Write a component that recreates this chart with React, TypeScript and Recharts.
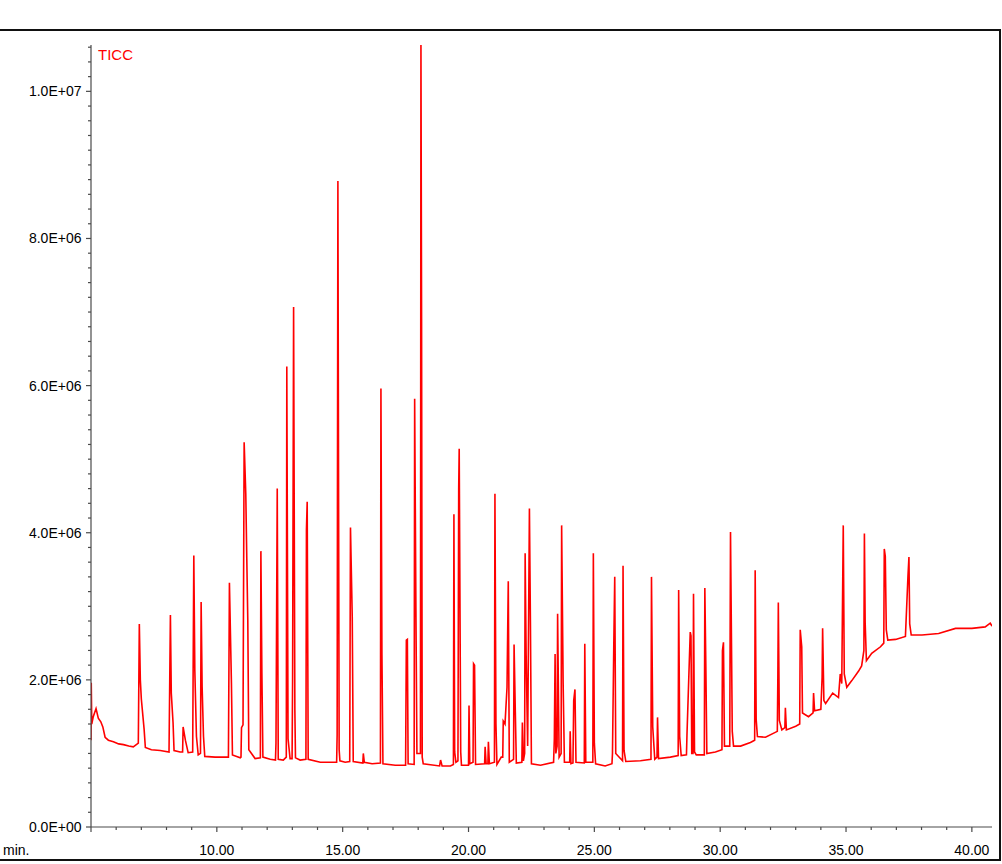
import { useLayoutEffect } from "react";
import { Line, LineChart, XAxis, YAxis } from "recharts";

// TICC trace, retention time (min) vs intensity (x 1E+06 counts)
const earlyTrace: [number, number][] = [
  [5.0, 1.18], [5.01, 1.96], [5.03, 1.4], [5.09, 1.5], [5.2, 1.61], [5.29, 1.48],
  [5.39, 1.43], [5.47, 1.36], [5.56, 1.22], [5.69, 1.18], [5.89, 1.16], [6.1, 1.13],
  [6.29, 1.12], [6.5, 1.1], [6.68, 1.09], [6.88, 1.14], [6.92, 2.76], [6.96, 2.0],
  [7.0, 1.74], [7.11, 1.33], [7.16, 1.08], [7.4, 1.05], [7.75, 1.04], [8.1, 1.02],
  [8.155, 2.88], [8.19, 1.82], [8.26, 1.42], [8.3, 1.04], [8.54, 1.02], [8.64, 1.02],
  [8.66, 1.36], [8.75, 1.18], [8.86, 1.01], [9.04, 1.02], [9.085, 3.69], [9.125, 2.13],
  [9.19, 1.23], [9.26, 0.98], [9.35, 1.0], [9.376, 3.06], [9.415, 1.91], [9.47, 1.23],
  [9.52, 0.96], [9.93, 0.95], [10.46, 0.95], [10.5, 3.32], [10.58, 1.95], [10.62, 0.98],
  [10.93, 0.94], [10.96, 0.95], [10.98, 1.35], [11.04, 1.39], [11.085, 5.23], [11.15, 4.53],
  [11.19, 3.65], [11.23, 2.81], [11.27, 1.05], [11.52, 0.93], [11.73, 0.94], [11.75, 3.75],
  [11.79, 2.09], [11.83, 0.95], [12.12, 0.92],
];

const midTrace: [number, number][] = [
  [12.33, 0.91], [12.35, 1.14], [12.4, 4.6], [12.44, 0.92], [12.64, 0.91], [12.76, 0.95],
  [12.78, 6.26], [12.83, 1.2], [12.91, 0.93], [12.99, 0.93], [13.01, 1.99], [13.05, 7.07],
  [13.1, 1.59], [13.125, 0.94], [13.31, 0.91], [13.54, 0.92], [13.56, 4.04], [13.59, 4.42],
  [13.63, 0.92], [14.11, 0.88], [14.76, 0.88], [14.78, 1.25], [14.81, 8.78], [14.86, 1.05],
  [14.89, 0.9], [15.1, 0.88], [15.28, 0.89], [15.31, 4.07], [15.38, 2.86], [15.42, 0.89],
  [15.8, 0.87], [15.82, 1.0], [15.86, 0.88], [16.17, 0.86], [16.5, 0.87], [16.52, 5.96],
  [16.56, 2.34], [16.6, 0.86], [17.09, 0.84], [17.5, 0.84], [17.53, 2.54], [17.57, 2.55],
  [17.6, 0.86], [17.84, 0.85], [17.86, 5.82], [17.91, 2.97], [17.95, 1.0], [18.09, 1.0],
  [18.11, 10.63], [18.135, 6.91], [18.16, 0.95], [18.2, 0.86], [18.85, 0.83], [18.89, 0.91],
  [18.95, 0.83], [19.28, 0.83], [19.4, 0.85], [19.42, 4.25], [19.45, 1.02], [19.5, 0.88],
  [19.58, 0.9], [19.61, 4.61], [19.63, 5.14], [19.69, 1.02], [19.72, 0.84], [20.0, 0.84],
  [20.02, 1.65], [20.05, 0.86], [20.18, 0.88], [20.2, 2.22], [20.24, 2.2], [20.28, 0.85],
  [20.64, 0.86], [20.66, 1.09], [20.7, 0.86], [20.77, 0.86], [20.79, 1.16], [20.83, 0.86],
  [21.03, 0.88], [21.05, 4.53], [21.09, 1.4], [21.13, 0.85], [21.3, 0.95], [21.36, 0.95],
  [21.38, 1.44], [21.45, 1.4], [21.53, 1.9], [21.58, 3.34], [21.62, 0.88], [21.79, 0.92],
  [21.81, 2.48], [21.86, 1.56], [21.9, 0.87], [22.12, 0.88], [22.14, 1.42], [22.18, 0.9],
  [22.23, 1.0], [22.25, 3.72], [22.29, 2.34], [22.35, 1.1], [22.42, 4.33], [22.46, 2.78],
  [22.5, 0.86], [22.86, 0.84], [23.38, 0.88], [23.41, 1.2], [23.44, 2.35], [23.47, 1.0],
  [23.52, 1.1], [23.54, 2.9], [23.6, 0.95], [23.68, 1.0], [23.7, 4.1], [23.76, 1.95],
  [23.81, 0.88], [24.02, 0.88], [24.04, 1.3], [24.07, 0.86], [24.15, 0.87], [24.18, 1.72],
  [24.23, 1.87], [24.27, 0.88],
];

const lateTrace: [number, number][] = [
  [24.6, 0.87], [24.62, 2.49], [24.66, 0.88], [24.94, 0.88], [24.96, 3.72], [25.0, 1.14],
  [25.05, 0.86], [25.43, 0.83], [25.7, 0.86], [25.72, 1.0], [25.77, 2.41], [25.81, 3.4],
  [25.85, 1.0], [26.12, 0.9], [26.14, 3.55], [26.18, 1.04], [26.25, 0.89], [26.83, 0.9],
  [27.25, 0.92], [27.27, 3.4], [27.32, 1.36], [27.4, 0.92], [27.49, 0.95], [27.51, 1.49],
  [27.55, 0.93], [28.02, 0.95], [28.33, 0.97], [28.35, 3.22], [28.39, 1.23], [28.45, 0.97],
  [28.66, 0.98], [28.68, 1.25], [28.81, 2.65], [28.84, 2.6], [28.87, 1.0], [28.92, 1.0],
  [28.94, 3.17], [28.98, 1.02], [29.05, 0.98], [29.37, 0.98], [29.39, 3.25], [29.43, 2.18],
  [29.47, 1.0], [29.81, 1.02], [30.07, 1.05], [30.09, 2.4], [30.13, 2.51], [30.17, 1.1],
  [30.38, 1.1], [30.39, 2.08], [30.41, 4.01], [30.48, 1.3], [30.53, 1.1], [30.81, 1.1],
  [31.2, 1.15], [31.37, 1.18], [31.39, 3.49], [31.43, 1.46], [31.48, 1.23], [31.8, 1.22],
  [32.27, 1.3], [32.29, 2.0], [32.31, 3.05], [32.35, 1.45], [32.45, 1.32], [32.57, 1.35],
  [32.59, 1.62], [32.63, 1.32], [33.0, 1.37], [33.16, 1.4], [33.18, 2.68], [33.24, 2.45],
  [33.27, 1.55], [33.51, 1.5], [33.69, 1.55], [33.71, 1.82], [33.75, 1.58], [34.0, 1.6],
  [34.05, 2.04], [34.07, 2.7], [34.12, 1.72], [34.19, 1.68], [34.47, 1.82], [34.7, 1.76],
  [34.77, 2.08], [34.83, 1.95], [34.89, 4.1], [34.93, 2.08], [35.03, 1.9], [35.23, 1.99],
  [35.5, 2.12], [35.62, 2.19], [35.71, 2.4], [35.73, 3.99], [35.76, 2.78], [35.81, 2.26],
  [36.02, 2.36], [36.37, 2.45], [36.5, 2.5], [36.52, 3.78], [36.56, 3.68], [36.6, 2.68],
  [36.66, 2.54], [36.97, 2.55], [37.36, 2.59], [37.46, 3.4], [37.5, 3.67], [37.53, 2.76],
  [37.59, 2.61], [38.02, 2.61], [38.68, 2.63], [39.35, 2.7], [40.0, 2.7], [40.53, 2.72],
  [40.73, 2.77], [40.8, 2.73],
];

const timeDomain: [number, number] = [5, 40.8];
const intensityDomain: [number, number] = [0, 10.63];
const minuteTicks = Array.from({ length: 36 }, (_, i) => 5 + i); // 5..40, labelled every 5
const intensityTicks = Array.from({ length: 54 }, (_, i) => i / 5); // 0..10.6 step 0.2

const FONT = "'Liberation Sans', Arial, Helvetica, sans-serif";
const AXIS = "#4a4a4a";
const TRACE = "#ff0000";

const data = [...earlyTrace, ...midTrace, ...lateTrace].map(([t, v]) => ({ t, v }));

function sci(v: number) {
  if (v === 0) return "0.0E+00";
  const raw = v * 1e6;
  const exp = Math.floor(Math.log10(raw) + 1e-9);
  const mant = raw / Math.pow(10, exp);
  return `${mant.toFixed(1)}E+${String(exp).padStart(2, "0")}`;
}

function TimeTick({ x, y, payload }: any) {
  const v = payload.value as number;
  const major = v % 5 === 0;
  return (
    <g>
      <line x1={x} y1={y} x2={x} y2={y + (major ? 5 : 3)} stroke={AXIS} strokeWidth={1.2} />
      {major && v !== 5 && (
        <text x={x} y={y + 27.5} textAnchor="middle" fontSize={14} fontFamily={FONT} fill="#000">
          {v.toFixed(2)}
        </text>
      )}
      {v === 5 && (
        <text x={3} y={y + 27.5} textAnchor="start" fontSize={14} fontFamily={FONT} fill="#000">
          min.
        </text>
      )}
    </g>
  );
}

function IntensityTick({ x, y, payload }: any) {
  const v = payload.value as number;
  const major = Math.abs(v / 2 - Math.round(v / 2)) < 1e-6;
  return (
    <g>
      <line x1={x - (major ? 5 : 3)} y1={y} x2={x} y2={y} stroke={AXIS} strokeWidth={1.2} />
      {major && (
        <text x={x - 9.5} y={y + 5} textAnchor="end" fontSize={14} fontFamily={FONT} fill="#000">
          {sci(v)}
        </text>
      )}
    </g>
  );
}

export default function App() {
  useLayoutEffect(() => {
    document.body.style.margin = "0";
  }, []);

  return (
    <div style={{ position: "relative", width: 1002, height: 864, background: "#fff", overflow: "hidden" }}>
      <div
        style={{
          position: "absolute",
          left: -2,
          top: 29,
          width: 1003,
          height: 832,
          border: "2px solid #111",
          boxSizing: "border-box",
        }}
      />
      <div style={{ position: "absolute", left: 0, top: 0 }}>
        <LineChart
          width={1002}
          height={864}
          data={data}
          margin={{ top: 45, right: 10, bottom: 0, left: 0 }}
        >
          <XAxis
            dataKey="t"
            type="number"
            domain={timeDomain}
            ticks={minuteTicks}
            interval={0}
            height={37}
            tickSize={0}
            tickMargin={0}
            tickLine={false}
            tick={<TimeTick />}
            axisLine={{ stroke: AXIS, strokeWidth: 1.2 }}
            allowDataOverflow
          />
          <YAxis
            type="number"
            domain={intensityDomain}
            ticks={intensityTicks}
            interval={0}
            width={91}
            tickSize={0}
            tickMargin={0}
            tickLine={false}
            tick={<IntensityTick />}
            axisLine={{ stroke: AXIS, strokeWidth: 1.2 }}
            allowDataOverflow
          />
          <Line
            type="linear"
            dataKey="v"
            stroke={TRACE}
            strokeWidth={1.6}
            dot={false}
            activeDot={false}
            isAnimationActive={false}
          />
        </LineChart>
      </div>
      <span
        style={{
          position: "absolute",
          left: 98,
          top: 47,
          fontSize: 15,
          lineHeight: "15px",
          fontFamily: FONT,
          color: TRACE,
        }}
      >
        TICC
      </span>
    </div>
  );
}
